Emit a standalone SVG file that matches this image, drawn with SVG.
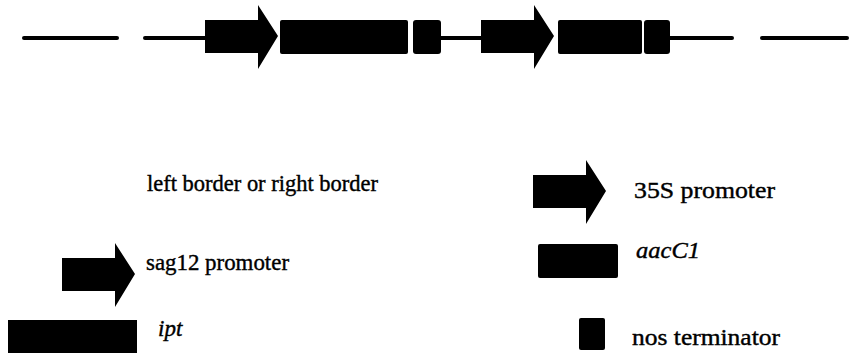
<svg xmlns="http://www.w3.org/2000/svg" width="854" height="355" viewBox="0 0 854 355">
  <style>
    .blk { fill: #000; }
    .ln { stroke: #000; stroke-width: 4; stroke-linecap: round; fill: none; }
    .lbl { font-size: 23px; fill: #000; stroke: #000; stroke-width: 0.4; }
    .it { font-style: italic; }
  </style>
  <defs>
    <!-- promoter arrow: body + head, origin at body's left/top -->
    <path id="promoter" d="M0,15 H53 V0 L73,31 L53,64 V48 H0 Z"/>
  </defs>

  <!-- T-DNA backbone -->
  <g id="connectors">
    <line class="ln" x1="24" y1="38" x2="117" y2="38"/>
    <line class="ln" x1="145" y1="38" x2="206" y2="38"/>
    <line class="ln" x1="440" y1="38" x2="482" y2="38"/>
    <line class="ln" x1="668" y1="38" x2="732" y2="38"/>
    <line class="ln" x1="762" y1="38" x2="847" y2="38"/>
  </g>

  <g id="map-sag12"><use href="#promoter" class="blk" x="205" y="5"/></g>
  <g id="map-ipt"><rect class="blk" x="280" y="20" width="128" height="34" rx="2"/></g>
  <g id="map-nos1"><rect class="blk" x="413" y="20" width="28" height="34" rx="3"/></g>
  <g id="map-35s"><use href="#promoter" class="blk" x="481" y="5"/></g>
  <g id="map-aacc1"><rect class="blk" x="558" y="20" width="84" height="34" rx="2"/></g>
  <g id="map-nos2"><rect class="blk" x="644" y="20" width="26" height="34" rx="3"/></g>

  <!-- legend -->
  <g id="legend-border" font-family="Liberation Serif, Times New Roman, serif">
    <text class="lbl" x="147" y="191" textLength="231" lengthAdjust="spacingAndGlyphs">left border or right border</text>
  </g>
  <g id="legend-sag12" font-family="Liberation Serif, Times New Roman, serif">
    <use href="#promoter" class="blk" x="62" y="243"/>
    <text class="lbl" x="146" y="270" textLength="143" lengthAdjust="spacingAndGlyphs">sag12 promoter</text>
  </g>
  <g id="legend-ipt" font-family="Liberation Serif, Times New Roman, serif">
    <rect class="blk" x="8" y="320" width="129" height="33"/>
    <text class="lbl it" x="158" y="336">ipt</text>
  </g>
  <g id="legend-35s" font-family="Liberation Serif, Times New Roman, serif">
    <use href="#promoter" class="blk" x="533" y="160"/>
    <text class="lbl" x="634" y="198" textLength="141" lengthAdjust="spacingAndGlyphs">35S promoter</text>
  </g>
  <g id="legend-aacc1" font-family="Liberation Serif, Times New Roman, serif">
    <rect class="blk" x="538" y="244" width="80" height="34" rx="2"/>
    <text class="lbl it" x="636" y="258" textLength="64" lengthAdjust="spacingAndGlyphs">aacC1</text>
  </g>
  <g id="legend-nos" font-family="Liberation Serif, Times New Roman, serif">
    <rect class="blk" x="579" y="318" width="26" height="32" rx="2"/>
    <text class="lbl" x="632" y="345" textLength="148" lengthAdjust="spacingAndGlyphs">nos terminator</text>
  </g>
</svg>
